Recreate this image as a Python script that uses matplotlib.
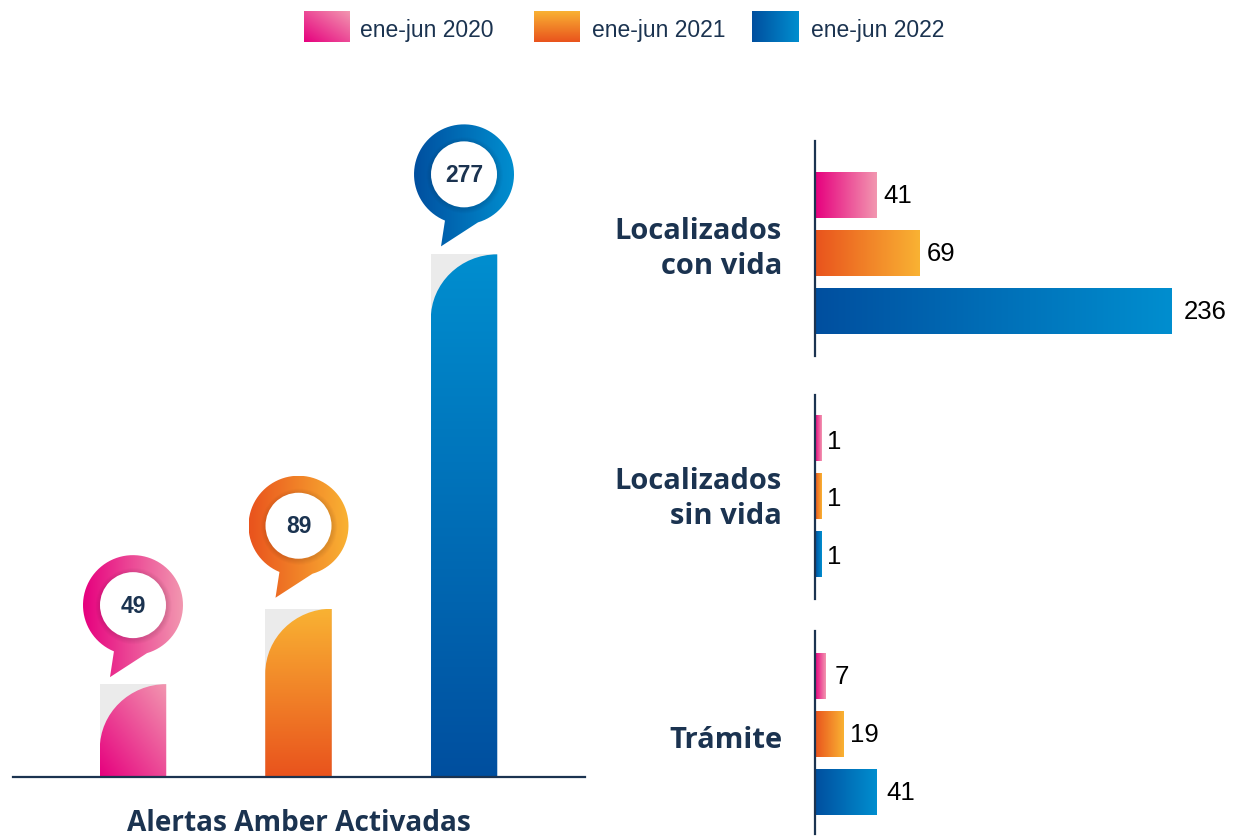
import numpy as np
import matplotlib
matplotlib.use('Agg')
import matplotlib.pyplot as plt
import matplotlib.colors as mcolors
from matplotlib.path import Path
from matplotlib.patches import PathPatch, Circle
from matplotlib.transforms import Affine2D

## Data

periods = ['ene-jun 2020', 'ene-jun 2021', 'ene-jun 2022']
alerts = [49, 89, 277]
alerts_label = 'Alertas Amber Activadas'

groups = ['Localizados\ncon vida', 'Localizados\nsin vida', 'Trámite']
con_vida = [41, 69, 236]
sin_vida = [1, 1, 1]
tramite = [7, 19, 41]

## Style

navy = '#1b3350'
grey_back = '#ebebeb'
dark_colors = ['#e6007e', '#e9531d', '#004f9f']
light_colors = ['#f297b0', '#f9b233', '#008ecf']

W, H = 1239, 837
fig = plt.figure(figsize=(W / 100, H / 100), dpi=100, facecolor='white')


def px_axes(x0, y0, x1, y1):
    # Axes placed from picture pixels (y measured from the top)
    y0, y1 = y0 + 1.5, y1 + 1.5
    return fig.add_axes([x0 / W, 1 - y1 / H, (x1 - x0) / W, (y1 - y0) / H])


def gradient(c0, c1, direction):
    # RGB array for imshow, first row is the top of the image
    n = 128
    u, v = np.meshgrid(np.linspace(0, 1, n), np.linspace(1, 0, n))
    if direction == 'h':
        t = u
    elif direction == 'v':
        t = v
    else:
        t = (u + v) / 2
    a, b = np.array(mcolors.to_rgb(c0)), np.array(mcolors.to_rgb(c1))
    return a + t[..., None] * (b - a)


## Legend

swatch_x = [304, 534, 752]
text_x = [360, 592, 811]
directions = ['d', 'v', 'h']
for i, period in enumerate(periods):
    ax_leg = px_axes(swatch_x[i], 10, swatch_x[i] + 46, 41)
    ax_leg.imshow(gradient(dark_colors[i], light_colors[i], directions[i]), aspect='auto')
    ax_leg.axis('off')
    fig.text(text_x[i] / W, 1 - 31 / H, period, family='Liberation Sans', fontsize=16.5,
             color=navy, va='center', ha='left')

## Left chart, vertical bars with a pin on top

ax = px_axes(13, 100, 585, 776)
px_per_unit = 1.885
xlim = (-0.725, 2.731)
ylim = (0, 676 / px_per_unit)
ax.set_xlim(xlim)
ax.set_ylim(ylim)
ax.set_xticks([])
ax.set_yticks([])
ax.patch.set_alpha(0)
for side in ['top', 'left', 'right']:
    ax.spines[side].set_visible(False)
ax.spines['bottom'].set_color(navy)
ax.spines['bottom'].set_linewidth(1.6)

bar_w = 66.5 / 165.5
corner_y = 65 / px_per_unit
k = 0.5523
pin_lift = [79, 83, 80]

# Outline of the pin, pixels around the circle centre, y pointing down
angles = np.radians(np.linspace(73.7, 112.4 - 360, 80))
pin_xy = np.column_stack([50 * np.cos(angles), 50 * np.sin(angles)])
pin_xy = np.vstack([pin_xy, [[-23, 72]], [[14, 48]]])
pin_path = Path(pin_xy, closed=False)

for i, value in enumerate(alerts):
    x0, x1 = i - bar_w / 2, i + bar_w / 2
    ax.bar(i, value, width=bar_w, color=grey_back, zorder=1)

    # Bar with the big rounded corner on the top left
    verts = [(x0, 0), (x0, value - corner_y),
             (x0, value - corner_y + k * corner_y), (x1 - k * bar_w, value), (x1, value),
             (x1, 0), (x0, 0)]
    codes = [Path.MOVETO, Path.LINETO, Path.CURVE4, Path.CURVE4, Path.CURVE4, Path.LINETO, Path.CLOSEPOLY]
    shape = PathPatch(Path(verts, codes), transform=ax.transData, facecolor='none', edgecolor='none')
    ax.add_patch(shape)
    im = ax.imshow(gradient(dark_colors[i], light_colors[i], directions[i] if i < 2 else 'v'),
                   extent=(x0, x1, 0, value), aspect='auto', zorder=2)
    im.set_clip_path(shape)

    # Pin, drawn in pixels from the top of the bar
    top = ax.transData.transform((i, value))
    to_display = Affine2D().scale(1, -1).translate(top[0], top[1] + pin_lift[i])
    outline = PathPatch(pin_path, transform=to_display, facecolor='none', edgecolor='none', clip_on=False)
    ax.add_patch(outline)
    pin_im = ax.imshow(gradient(dark_colors[i], light_colors[i], 'h'), extent=(-50, 50, 74, -50),
                       transform=to_display, aspect='auto', zorder=3, clip_on=True)
    pin_im.set_clip_path(outline)
    for r in [38, 37, 36, 35, 34]:
        ax.add_patch(Circle((0.7, 1), r, transform=to_display, facecolor='black', alpha=0.02,
                            edgecolor='none', zorder=4, clip_on=False))
    ax.add_patch(Circle((0, 0), 33, transform=to_display, facecolor='white', edgecolor='none',
                        zorder=5, clip_on=False))
    ax.text(0, 0, str(value), transform=to_display, ha='center', va='center', zorder=6,
            family='Liberation Sans', fontweight='bold', fontsize=16.5, color=navy)

ax.set_xlim(xlim)
ax.set_ylim(ylim)

fig.text(299 / W, 1 - 824 / H, alerts_label, family='Open Sans', fontweight='bold', fontsize=20.2,
         color=navy, ha='center', va='center')

## Right chart, one small axes per group

panel_boxes = [(140, 355, -0.94, 2.767), (394, 598, -0.76, 2.76), (630, 833, -0.78, 2.72)]
group_y = [249, 499, 741]
panel_values = [con_vida, sin_vida, tramite]
label_pads = [[6.5, 8, 12], [5, 5, 5], [9, 6.5, 9.5]]  # pixels between bar and number
label_drop = [0, 2, 0]
scale = 1.51
min_width = 4.6  # the bars of value 1 are wider than their value in the original

for g, values in enumerate(panel_values):
    y0, y1, top_lim, bottom_lim = panel_boxes[g]
    axr = px_axes(815, y0, W, y1)
    xmax = (W - 815) / scale
    axr.set_xlim(0, xmax)
    axr.set_ylim(bottom_lim, top_lim)
    axr.set_xticks([])
    axr.set_yticks([])
    axr.patch.set_alpha(0)
    for side in ['top', 'bottom', 'right']:
        axr.spines[side].set_visible(False)
    axr.spines['left'].set_color(navy)
    axr.spines['left'].set_linewidth(1.6)

    for i, value in enumerate(values):
        length = max(value, min_width)
        axr.imshow(gradient(dark_colors[i], light_colors[i], 'h'),
                   extent=(0, length, i + 0.395, i - 0.395), aspect='auto', zorder=1)
        axr.annotate(str(value), (length, i), xytext=(label_pads[g][i], -label_drop[g]),
                     textcoords='offset pixels', va='center', ha='left',
                     family='Liberation Sans', fontsize=18.5, color='black')
    axr.set_xlim(0, xmax)
    axr.set_ylim(bottom_lim, top_lim)

    fig.text(782 / W, 1 - group_y[g] / H, groups[g], family='Open Sans', fontweight='bold', fontsize=21,
             color=navy, ha='right', va='center', linespacing=1.28)

fig.savefig('out.png', dpi=100)
